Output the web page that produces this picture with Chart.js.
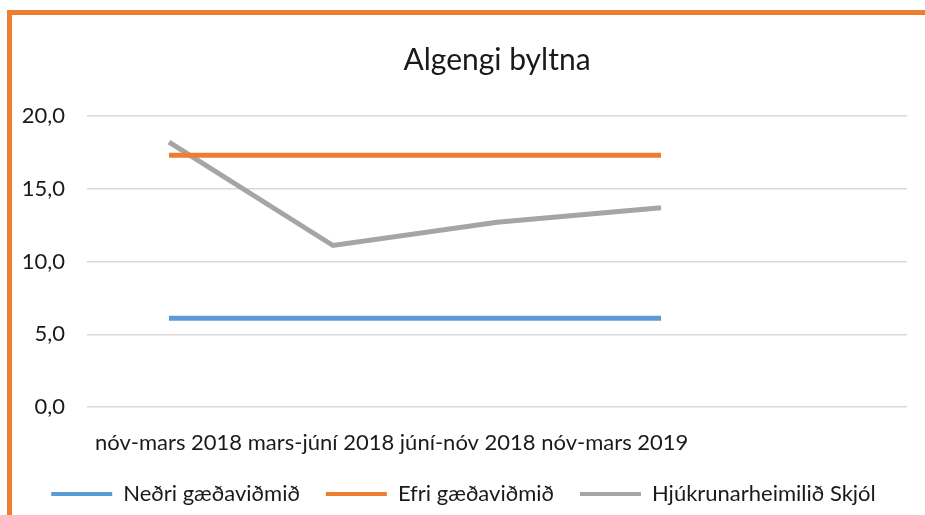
<!DOCTYPE html>
<html>
<head>
<meta charset="utf-8">
<script src="https://cdn.jsdelivr.net/npm/chart.js@4/dist/chart.umd.min.js"></script>
<style>
  html, body { margin: 0; padding: 0; background: #fff; overflow: hidden; }
  body { width: 925px; height: 515px; position: relative; }
  .frame {
    position: absolute; left: 7px; top: 10px;
    width: 940px; height: 530px;
    border-left: 5px solid #ED7D31; border-top: 5px solid #ED7D31;
  }
  .wrap { position: absolute; left: 0; top: 0; width: 913px; height: 500px; }
</style>
</head>
<body>
<div class="frame"><div class="wrap"><canvas id="chart"></canvas></div></div>
<script>
'use strict';

// --- data ---
const categories = ['nóv-mars 2018', 'mars-júní 2018', 'júní-nóv 2018', 'nóv-mars 2019', ''];
const lowerLimit = [6.1, 6.1, 6.1, 6.1, null];
const upperLimit = [17.3, 17.3, 17.3, 17.3, null];
const skjol      = [18.2, 11.1, 12.7, 13.7, null];
const seriesNames = ['Neðri gæðaviðmið', 'Efri gæðaviðmið', 'Hjúkrunarheimilið Skjól'];
const yTicks = [0, 5, 10, 15, 20];

const FONT = 'Lato, "Open Sans", sans-serif';
const TEXT = '#1a1a1a';
const colors = ['#5B9BD5', '#ED7D31', '#A5A5A5'];

// category labels in the source run on as one line from the left of the plot
const xLabelLine = {
  id: 'xLabelLine',
  afterDraw(chart) {
    const { ctx, chartArea } = chart;
    ctx.save();
    ctx.font = '22px ' + FONT;
    ctx.fillStyle = TEXT;
    ctx.textBaseline = 'middle';
    ctx.textAlign = 'left';
    ctx.fillText(categories.filter(Boolean).join(' '), chartArea.left + 8, chartArea.bottom + 36);
    ctx.restore();
  }
};

function line(label, data, color) {
  return {
    label, data,
    borderColor: color,
    backgroundColor: color,
    borderWidth: 5,
    pointRadius: 0,
    tension: 0,
    borderCapStyle: 'butt',
    borderJoinStyle: 'miter'
  };
}

new Chart(document.getElementById('chart'), {
  type: 'line',
  data: {
    labels: categories,
    datasets: [
      line(seriesNames[0], lowerLimit, colors[0]),
      line(seriesNames[1], upperLimit, colors[1]),
      line(seriesNames[2], skjol, colors[2])
    ]
  },
  plugins: [xLabelLine],
  options: {
    responsive: true,
    maintainAspectRatio: false,
    animation: false,
    layout: { padding: { left: 8, right: 18, top: 0, bottom: 0 } },
    plugins: {
      title: {
        display: true,
        fullSize: false,
        text: 'Algengi byltna',
        color: TEXT,
        font: { family: FONT, size: 30, weight: 'normal' },
        padding: { top: 27, bottom: 38 }
      },
      legend: {
        position: 'bottom',
        labels: {
          color: TEXT,
          font: { family: FONT, size: 22 },
          boxWidth: 61,
          boxHeight: 4,
          padding: 26,
          generateLabels: chart => chart.data.datasets.map((ds, i) => ({
            text: ds.label,
            fillStyle: ds.borderColor,
            strokeStyle: ds.borderColor,
            lineWidth: 0,
            fontColor: TEXT,
            datasetIndex: i
          }))
        }
      },
      tooltip: { enabled: false }
    },
    scales: {
      x: {
        offset: true,
        grid: { display: false },
        border: { display: false },
        ticks: { display: false },
        afterFit: s => { s.height = 50; }
      },
      y: {
        min: 0,
        max: 20,
        afterBuildTicks: s => { s.ticks = yTicks.map(v => ({ value: v })); },
        grid: { color: '#D9D9D9', lineWidth: 1.5, drawTicks: false },
        border: { display: false },
        ticks: {
          color: TEXT,
          font: { family: FONT, size: 22 },
          padding: 22,
          callback: v => v.toFixed(1).replace('.', ',')
        },
        afterFit: s => { s.width = 67; }
      }
    }
  }
});
</script>
</body>
</html>
